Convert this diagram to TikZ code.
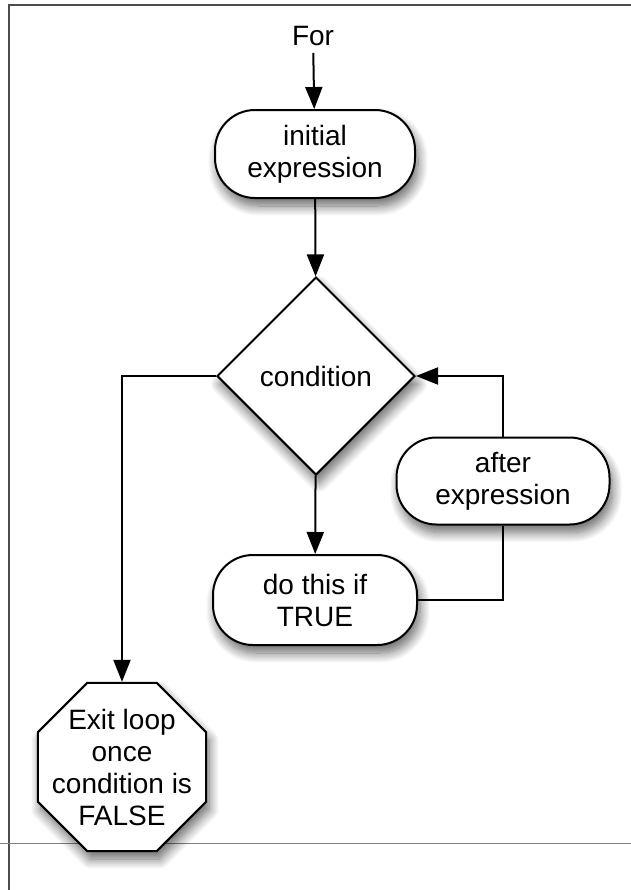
\documentclass[tikz,border=0pt]{standalone}
\usepackage{fontspec}
\setmainfont{Liberation Sans}
\usepackage{tikz}
\usetikzlibrary{shapes.geometric,arrows.meta,shadows.blur}
\tikzset{>={Triangle[length=11pt,width=8.5pt]}}
\tikzset{
  softshadow/.style={blur shadow={shadow xshift=1.5pt,shadow yshift=-4pt,shadow blur steps=12,shadow blur radius=5pt,shadow opacity=60}},
  roundbox/.style={draw,fill=white,line width=1pt,rounded corners=20pt,align=center,softshadow},
  testbox/.style={diamond,draw,fill=white,line width=1pt,minimum width=99pt,minimum height=99pt,inner sep=0pt,softshadow},
  stopbox/.style={regular polygon,regular polygon sides=8,draw,fill=white,line width=1pt,minimum size=91pt,inner sep=0pt,softshadow},
  flow/.style={line width=1pt}
}

\begin{document}
\begin{tikzpicture}[x=0.5pt,y=-0.5pt,font=\fontsize{14}{16}\selectfont]
\useasboundingbox (0,0) rectangle (631,890);
% page frame
\draw [line width=1pt,black!70] (9,890) -- (9,5) -- (631,5);
\draw [line width=0.5pt,black!50] (0,843) -- (631,843);
% boxes
\node (for) at (313,36) {For};
\node [roundbox,minimum width=100pt,minimum height=44pt] (init) at (315,154) {initial\\expression};
\node [testbox] (cond) at (316,376) {condition};
\node [roundbox,minimum width=102pt,minimum height=45pt] (dothis) at (315,600) {do this if\\TRUE};
\node [roundbox,minimum width=106.5pt,minimum height=43.5pt] (after) at (503,481) {after\\expression};
\node [stopbox,label={[align=center]center:Exit loop\\once\\condition is\\FALSE}] (exit) at (122,767) {};
% connectors
\draw [flow,->] (for) -- (init);
\draw [flow,->] (init) -- (cond);
\draw [flow,->] (cond) -- (dothis);
\draw [flow,->] (cond.west) -| (exit.north);
\draw [flow] (dothis.east) -| (after.south);
\draw [flow,->] (after.north) |- (cond.east);
\end{tikzpicture}
\end{document}
